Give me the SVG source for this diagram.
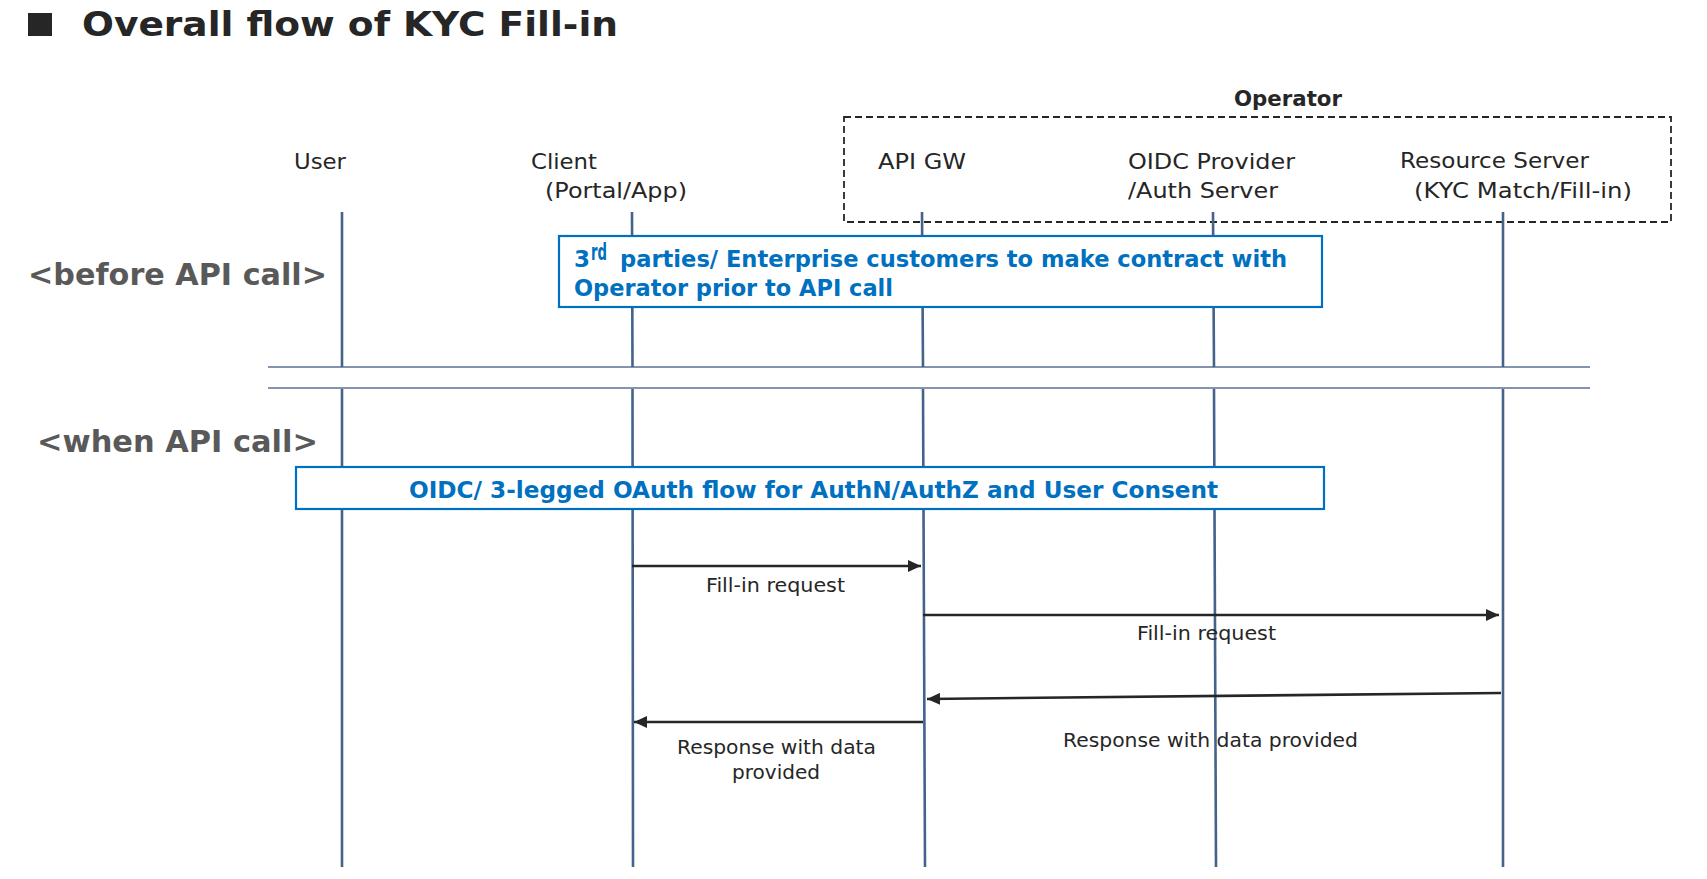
<svg xmlns="http://www.w3.org/2000/svg" width="1707" height="879" viewBox="0 0 1707 879">
<style>
  .t { font-family: "DejaVu Sans", "Liberation Sans", sans-serif; fill: #262626; }
  .hdr { font-size: 22px; }
  .lbl { font-size: 20px; }
  .sec { font-family: "DejaVu Sans", "Liberation Sans", sans-serif; font-size: 30px; font-weight: bold; fill: #595959; }
  .blue { font-family: "DejaVu Sans", "Liberation Sans", sans-serif; font-weight: bold; fill: #0070c0; font-size: 23px; }
  .life { stroke: #44628a; stroke-width: 2.6; fill: none; }
  .sep { stroke: #5a7092; stroke-width: 1.3; }
  .box { fill: #ffffff; stroke: #0070c0; stroke-width: 2.2; }
  .msg { stroke: #262626; stroke-width: 2.6; fill: none; marker-end: url(#arr); }
</style>
<defs>
  <marker id="arr" markerUnits="userSpaceOnUse" markerWidth="14" markerHeight="12" refX="13" refY="6" orient="auto">
    <path d="M0,0 L13,6 L0,12 Z" fill="#262626"/>
  </marker>
</defs>
<rect width="1707" height="879" fill="#ffffff"/>

<g id="title">
  <rect x="28" y="13" width="24" height="23" fill="#262626"/>
  <text class="t" x="82" y="36" font-size="33" font-weight="bold" textLength="536" lengthAdjust="spacingAndGlyphs">Overall flow of KYC Fill-in</text>
</g>

<g id="sections">
  <text class="sec" x="28" y="285" textLength="299" lengthAdjust="spacingAndGlyphs">&lt;before API call&gt;</text>
  <text class="sec" x="37" y="452" textLength="281" lengthAdjust="spacingAndGlyphs">&lt;when API call&gt;</text>
  <line class="sep" x1="268" y1="367" x2="1590" y2="367"/>
  <line class="sep" x1="268" y1="388" x2="1590" y2="388"/>
</g>

<g id="operator">
  <rect x="844" y="117" width="827" height="105" fill="none" stroke="#262626" stroke-width="1.8" stroke-dasharray="7,4"/>
  <text class="t" x="1234" y="106" font-size="22" font-weight="bold" textLength="108" lengthAdjust="spacingAndGlyphs">Operator</text>
</g>

<g id="lifelines">
  <path class="life" d="M342,212 V367 M342,389 V867"/>
  <path class="life" d="M632,212 L632.5,367 M632.5,389 L633,867"/>
  <path class="life" d="M922,212 L923,367 M923,389 L925,867"/>
  <path class="life" d="M1213,212 L1214,367 M1214,389 L1216,867"/>
  <path class="life" d="M1503,212 V367 M1503,389 V867"/>
</g>

<g id="user">
  <text class="t hdr" x="294" y="169" textLength="52" lengthAdjust="spacingAndGlyphs">User</text>
</g>
<g id="client">
  <text class="t hdr" x="531" y="169" textLength="66" lengthAdjust="spacingAndGlyphs">Client</text>
  <text class="t hdr" x="545" y="198" textLength="142" lengthAdjust="spacingAndGlyphs">(Portal/App)</text>
</g>
<g id="apigw">
  <text class="t hdr" x="878" y="169" textLength="88" lengthAdjust="spacingAndGlyphs">API GW</text>
</g>
<g id="oidc-provider">
  <text class="t hdr" x="1128" y="169" textLength="167" lengthAdjust="spacingAndGlyphs">OIDC Provider</text>
  <text class="t hdr" x="1128" y="198" textLength="150" lengthAdjust="spacingAndGlyphs">/Auth Server</text>
</g>
<g id="resource-server">
  <text class="t hdr" x="1400" y="168" textLength="189" lengthAdjust="spacingAndGlyphs">Resource Server</text>
  <text class="t hdr" x="1414" y="198" textLength="218" lengthAdjust="spacingAndGlyphs">(KYC Match/Fill-in)</text>
</g>

<g id="contract-note">
  <rect class="box" x="559" y="236" width="763" height="71"/>
  <text class="blue" x="574" y="267">3</text>
  <text class="blue" x="591" y="260" font-size="13" textLength="16" lengthAdjust="spacingAndGlyphs">rd</text>
  <text class="blue" x="620" y="267" textLength="667" lengthAdjust="spacingAndGlyphs">parties/ Enterprise customers to make contract with</text>
  <text class="blue" x="574" y="296" textLength="319" lengthAdjust="spacingAndGlyphs">Operator prior to API call</text>
</g>

<g id="oauth-note">
  <rect class="box" x="296" y="467" width="1028" height="42"/>
  <text class="blue" x="409" y="498" textLength="809" lengthAdjust="spacingAndGlyphs">OIDC/ 3-legged OAuth flow for AuthN/AuthZ and User Consent</text>
</g>

<g id="connectors">
  <line class="msg" x1="632" y1="566" x2="921" y2="566"/>
  <line class="msg" x1="923" y1="615" x2="1499" y2="615"/>
  <line class="msg" x1="1501" y1="693" x2="927" y2="699"/>
  <line class="msg" x1="923" y1="722" x2="634" y2="722"/>
</g>

<g id="connector-labels">
  <text class="t lbl" x="706" y="592" textLength="139" lengthAdjust="spacingAndGlyphs">Fill-in request</text>
  <text class="t lbl" x="1137" y="640" textLength="139" lengthAdjust="spacingAndGlyphs">Fill-in request</text>
  <text class="t lbl" x="1063" y="747" textLength="295" lengthAdjust="spacingAndGlyphs">Response with data provided</text>
  <text class="t lbl" x="677" y="754" textLength="199" lengthAdjust="spacingAndGlyphs">Response with data</text>
  <text class="t lbl" x="732" y="779" textLength="88" lengthAdjust="spacingAndGlyphs">provided</text>
</g>
</svg>
